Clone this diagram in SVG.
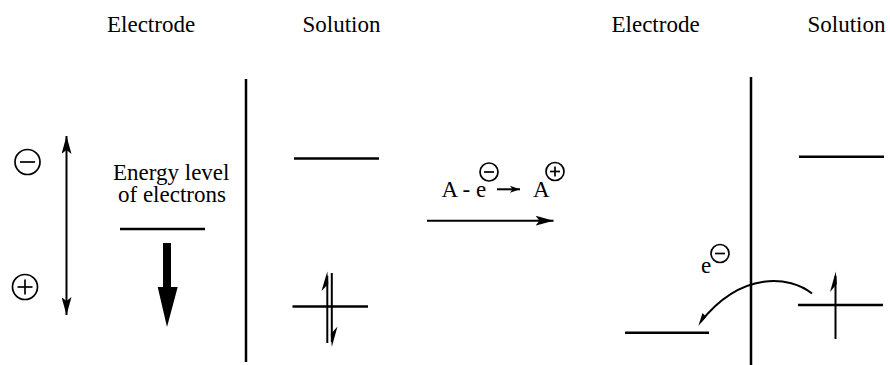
<svg xmlns="http://www.w3.org/2000/svg" width="890" height="365" viewBox="0 0 890 365" font-family="'Liberation Serif', 'Times New Roman', serif">
<style>
text{font-family:'Liberation Serif','Times New Roman',serif;font-size:23px;fill:#000}
.lvl{stroke:#000;stroke-width:2.5;fill:none}
.div{stroke:#000;stroke-width:2.5;fill:none}
.thin{stroke:#000;stroke-width:2;fill:none}
.sym{stroke:#000;stroke-width:1.7;fill:none}
.fill{fill:#000;stroke:none}
</style>
<defs>
<marker id="ah" viewBox="0 0 18 10" refX="18" refY="5" markerWidth="18" markerHeight="10" markerUnits="userSpaceOnUse" orient="auto-start-reverse">
<path d="M0,0 L18,5 L0,10 L4,5 Z" fill="#000"/>
</marker>
<marker id="ahs" viewBox="0 0 10 7" refX="10" refY="3.5" markerWidth="10" markerHeight="7" markerUnits="userSpaceOnUse" orient="auto">
<path d="M0,0 L10,3.5 L0,7 L2.5,3.5 Z" fill="#000"/>
</marker>
<g id="minus"><circle r="12.5" class="sym"/><line x1="-7.5" y1="0" x2="7.5" y2="0" class="sym" stroke-width="2.2"/></g>
<g id="plus"><circle r="12.5" class="sym"/><line x1="-7.5" y1="0" x2="7.5" y2="0" class="sym" stroke-width="2.2"/><line x1="0" y1="-7.5" x2="0" y2="7.5" class="sym" stroke-width="2.2"/></g>
<g id="minusS"><circle r="9" class="sym"/><line x1="-5" y1="0" x2="5" y2="0" class="sym" stroke-width="2.2"/></g>
<g id="plusS"><circle r="9" class="sym"/><line x1="-5" y1="0" x2="5" y2="0" class="sym" stroke-width="2.2"/><line x1="0" y1="-5" x2="0" y2="5" class="sym" stroke-width="2.2"/></g>
</defs>

<g id="titles">
<text x="107" y="32">Electrode</text>
<text x="302.5" y="32">Solution</text>
<text x="611.5" y="32">Electrode</text>
<text x="807.5" y="32">Solution</text>
</g>

<g id="polarity">
<use href="#minus" x="27.5" y="162"/>
<use href="#plus" x="25" y="287"/>
</g>

<g id="energy-label">
<text x="113" y="180">Energy level</text>
<text x="118" y="202">of electrons</text>
</g>

<g id="left-electrode-level">
<line x1="120" y1="229" x2="205" y2="229" class="lvl"/>
</g>

<g id="left-divider">
<line x1="246" y1="79" x2="246" y2="362" class="div"/>
</g>

<g id="left-solution-upper">
<line x1="294" y1="158.5" x2="379" y2="158.5" class="lvl"/>
</g>

<g id="left-solution-lower">
<line x1="292.5" y1="306.5" x2="368" y2="306.5" class="lvl"/>
</g>

<g id="reaction">
<text x="441.5" y="196.7">A - e</text>
<use href="#minusS" x="489" y="172"/>
<text x="533" y="196.7">A</text>
<use href="#plusS" x="555" y="171.5"/>
</g>

<g id="right-electrode-level">
<line x1="625" y1="332.7" x2="709" y2="332.7" class="lvl"/>
</g>

<g id="right-divider">
<line x1="751" y1="77" x2="751" y2="365" class="div"/>
</g>

<g id="right-solution-upper">
<line x1="799" y1="156.7" x2="884" y2="156.7" class="lvl"/>
</g>

<g id="right-solution-lower">
<line x1="798" y1="305" x2="883" y2="305" class="lvl"/>
</g>

<g id="electron-label">
<text x="701" y="273">e</text>
<use href="#minusS" x="720" y="253.5"/>
</g>

<g id="connectors">
<line x1="66.5" y1="136" x2="66.5" y2="315" class="thin" marker-start="url(#ah)" marker-end="url(#ah)"/>
<polygon class="fill" points="163,243 171,243 171,287 177.7,287 167,327 157.7,287 163,287"/>
<line x1="497" y1="189.3" x2="520" y2="189.3" class="thin" marker-end="url(#ahs)"/>
<line x1="427" y1="220.7" x2="553.5" y2="220.7" class="thin" marker-end="url(#ah)"/>
<line x1="327.3" y1="343" x2="327.3" y2="276" class="thin"/>
<polygon class="fill" points="327.3,271.5 328.3,284 321.5,291"/>
<line x1="331.8" y1="273" x2="331.8" y2="342" class="thin"/>
<polygon class="fill" points="331.8,347 330.8,334 337.5,326.5"/>
<line x1="835.5" y1="339" x2="835.5" y2="276" class="thin"/>
<polygon class="fill" points="835.8,271.5 836.8,284 830,292"/>
<path d="M812,293.5 C790,276 742,270 700.5,322" class="thin"/>
<polygon class="fill" points="698.3,326 702.5,313 706.3,316.8"/>
</g>
</svg>
